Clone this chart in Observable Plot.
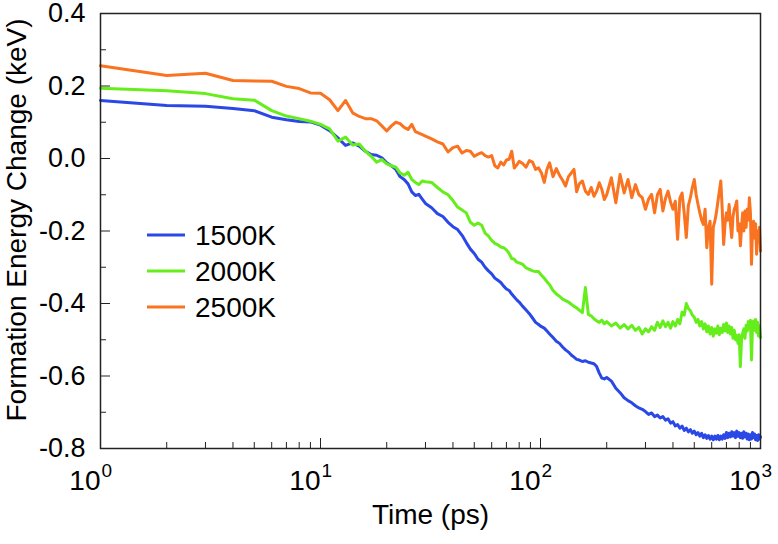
<!DOCTYPE html>
<html>
<head>
<meta charset="utf-8">
<script src="https://cdn.jsdelivr.net/npm/d3@7"></script>
<script src="https://cdn.jsdelivr.net/npm/@observablehq/plot@0.6"></script>
<style>
  body { margin: 0; background: #fff; }
  #chart { width: 778px; height: 544px; }
</style>
</head>
<body>
<div id="chart"></div>
<script>
// ---- data (time in ps, formation energy change in keV) ----
const time = [
  1,2,3,4,5,6,7,8,9,10,11,12,13,14,15,16,17,18,19,20,21,22,23,24,25,26,27,28,29,30,
  32,34,36,38,40,42,44,46,48,50,52,54,56,58,60,62,64,66,68,70,72,74,76,78,80,
  83,86,89,92,95,98,101,104,107,110,
  114,118,122,126,130,134,138,142,146,150,
  155,160,165,170,175,180,185,190,195,200,
  210,220,230,240,250,260,270,280,290,300,310,320,330,340,350,360,370,380,390,400,
  410,420,430,440,450,460,470,480,490,500,510,520,530,540,550,560,570,580,590,600,
  610,620,630,640,650,660,670,680,690,700,710,720,730,740,750,760,770,780,790,800,
  810,820,830,840,850,860,870,880,890,900,910,920,930,940,950,960,970,980,990,1000
];

const energy1500K = [
  0.160,0.146,0.144,0.138,0.132,0.114,0.107,0.102,0.101,0.092,0.077,0.057,0.036,0.043,0.034,0.020,0.011,0.009,0.002,-0.012,
  -0.020,-0.030,-0.050,-0.058,-0.070,-0.092,-0.102,-0.099,-0.112,-0.124,
  -0.136,-0.152,-0.160,-0.176,-0.188,-0.196,-0.212,-0.232,-0.250,-0.262,-0.278,-0.286,-0.300,-0.310,-0.318,-0.330,-0.336,-0.342,-0.352,-0.360,-0.364,-0.374,-0.382,-0.390,-0.396,
  -0.408,-0.418,-0.428,-0.440,-0.452,-0.458,-0.464,-0.468,-0.476,-0.484,
  -0.494,-0.504,-0.510,-0.520,-0.528,-0.534,-0.542,-0.548,-0.554,-0.556,
  -0.560,-0.558,-0.562,-0.564,-0.566,-0.574,-0.592,-0.606,-0.608,-0.604,
  -0.614,-0.634,-0.646,-0.660,-0.668,-0.674,-0.682,-0.688,-0.692,-0.698,-0.706,-0.702,-0.712,-0.708,-0.716,-0.712,-0.722,-0.718,-0.730,-0.726,
  -0.738,-0.734,-0.744,-0.738,-0.750,-0.744,-0.754,-0.748,-0.758,-0.752,-0.762,-0.756,-0.766,-0.758,-0.770,-0.762,-0.772,-0.764,-0.774,-0.766,
  -0.776,-0.766,-0.774,-0.764,-0.776,-0.766,-0.774,-0.762,-0.772,-0.756,-0.770,-0.758,-0.768,-0.754,-0.766,-0.756,-0.770,-0.752,-0.766,-0.756,
  -0.770,-0.758,-0.772,-0.754,-0.768,-0.758,-0.774,-0.760,-0.776,-0.762,-0.774,-0.756,-0.770,-0.760,-0.776,-0.764,-0.778,-0.762,-0.774,-0.768
];

const energy2000K = [
  0.194,0.187,0.179,0.165,0.161,0.132,0.117,0.110,0.103,0.094,0.082,0.048,0.059,0.037,0.040,0.020,0.006,-0.010,-0.003,-0.015,
  -0.020,-0.024,-0.040,-0.046,-0.038,-0.058,-0.066,-0.072,-0.062,-0.064,
  -0.066,-0.080,-0.092,-0.100,-0.116,-0.134,-0.142,-0.150,-0.176,-0.184,-0.178,-0.184,-0.206,-0.214,-0.226,-0.234,-0.238,-0.244,-0.246,-0.252,-0.262,-0.276,-0.278,-0.286,-0.288,
  -0.292,-0.302,-0.306,-0.310,-0.312,-0.312,-0.322,-0.330,-0.340,-0.348,
  -0.364,-0.374,-0.380,-0.388,-0.392,-0.396,-0.402,-0.408,-0.412,-0.418,
  -0.425,-0.356,-0.430,-0.434,-0.442,-0.448,-0.452,-0.446,-0.456,-0.450,
  -0.462,-0.454,-0.468,-0.458,-0.470,-0.460,-0.474,-0.466,-0.484,-0.470,-0.478,-0.464,-0.474,-0.452,-0.466,-0.448,-0.464,-0.452,-0.468,-0.450,
  -0.462,-0.444,-0.456,-0.424,-0.432,-0.400,-0.414,-0.420,-0.432,-0.438,-0.452,-0.444,-0.462,-0.450,-0.470,-0.456,-0.478,-0.462,-0.484,-0.466,
  -0.490,-0.470,-0.482,-0.462,-0.486,-0.468,-0.480,-0.458,-0.476,-0.454,-0.480,-0.462,-0.484,-0.466,-0.496,-0.474,-0.500,-0.488,-0.510,-0.486,
  -0.574,-0.498,-0.482,-0.470,-0.496,-0.460,-0.476,-0.450,-0.470,-0.446,-0.556,-0.462,-0.448,-0.474,-0.444,-0.480,-0.452,-0.490,-0.462,-0.494
];

const energy2500K = [
  0.256,0.229,0.235,0.215,0.214,0.213,0.199,0.193,0.181,0.180,0.162,0.132,0.160,0.126,0.116,0.110,0.110,0.104,0.090,0.076,
  0.090,0.100,0.096,0.086,0.080,0.094,0.074,0.070,0.066,0.062,
  0.054,0.046,0.040,0.018,0.030,0.034,0.015,0.022,0.020,0.006,0.012,0.016,0.008,0.004,0.008,-0.020,-0.026,-0.010,-0.018,-0.004,-0.002,0.020,-0.026,-0.018,-0.008,
  -0.014,-0.024,-0.006,-0.010,-0.030,-0.026,-0.040,-0.066,-0.030,-0.012,
  -0.050,-0.028,-0.046,-0.060,-0.076,-0.050,-0.040,-0.030,-0.092,-0.070,
  -0.062,-0.090,-0.099,-0.080,-0.104,-0.090,-0.067,-0.085,-0.113,-0.100,
  -0.053,-0.122,-0.044,-0.095,-0.058,-0.108,-0.072,-0.100,-0.108,-0.140,-0.112,-0.099,-0.150,-0.100,-0.085,-0.145,-0.110,-0.090,-0.120,-0.140,
  -0.118,-0.223,-0.110,-0.095,-0.150,-0.218,-0.130,-0.108,-0.080,-0.058,-0.100,-0.127,-0.150,-0.170,-0.182,-0.140,-0.246,-0.190,-0.173,-0.347,
  -0.190,-0.173,-0.150,-0.120,-0.090,-0.062,-0.140,-0.237,-0.180,-0.150,-0.170,-0.127,-0.180,-0.218,-0.160,-0.140,-0.130,-0.117,-0.200,-0.180,
  -0.241,-0.190,-0.150,-0.200,-0.145,-0.190,-0.140,-0.170,-0.108,-0.150,-0.292,-0.190,-0.173,-0.220,-0.180,-0.264,-0.200,-0.230,-0.190,-0.256
];

const seriesNames = ["1500K", "2000K", "2500K"];
const seriesColors = ["#2a48e6", "#66ee1c", "#fa7320"];

const yMajorTicks = [-0.8, -0.6, -0.4, -0.2, 0.0, 0.2, 0.4];
const yMinorTicks = [-0.7, -0.5, -0.3, -0.1, 0.1, 0.3];
const xMajorTicks = [1, 10, 100, 1000];
const xTickBase = "10";
const xTickExponents = ["0", "1", "2", "3"];
const xMinorTicks = [2,3,4,5,6,7,8,9,20,30,40,50,60,70,80,90,200,300,400,500,600,700,800,900];

const xTitle = "Time (ps)";
const yTitle = "Formation Energy Change (keV)";

// ---- build table ----
const seriesValues = [energy1500K, energy2000K, energy2500K];
const rows = [];
seriesNames.forEach((name, i) => {
  time.forEach((t, j) => rows.push({series: name, time: t, energy: seriesValues[i][j]}));
});

const font = "'Liberation Sans', Arial, Helvetica, sans-serif";

const chart = Plot.plot({
  width: 778,
  height: 544,
  marginLeft: 100,
  marginRight: 18,
  marginTop: 13,
  marginBottom: 96,
  style: {fontFamily: font, fontSize: "28px", background: "#fff", color: "#000"},
  x: {type: "log", domain: [1, 1000]},
  y: {domain: [-0.8, 0.4]},
  color: {domain: seriesNames, range: seriesColors},
  marks: [
    Plot.line(rows, {x: "time", y: "energy", z: "series", stroke: "series", strokeWidth: 3, strokeLinejoin: "round"}),
    Plot.frame({stroke: "#222", strokeWidth: 1.5}),
    Plot.axisY(yMajorTicks, {anchor: "left", tickSize: -10, tickPadding: 25, tickFormat: d => d.toFixed(1), fontSize: 27, label: null, stroke: "#222"}),
    Plot.axisY(yMinorTicks, {anchor: "left", tickSize: -6, tickFormat: () => "", label: null, stroke: "#222"}),
    Plot.axisX(xMajorTicks, {anchor: "bottom", tickSize: -10, tickPadding: 32, tickFormat: () => xTickBase, textAnchor: "end", fontSize: 28, label: null, stroke: "#222"}),
    Plot.axisX(xMajorTicks, {anchor: "bottom", tickSize: 0, tickPadding: 15, tickFormat: d => xTickExponents[xMajorTicks.indexOf(d)], textAnchor: "start", dx: 1, fontSize: 19, label: null}),
    Plot.axisX(xMinorTicks, {anchor: "bottom", tickSize: -6, tickFormat: () => "", label: null, stroke: "#222"}),
    Plot.text([xTitle], {frameAnchor: "bottom", text: d => d, textAnchor: "middle", dy: 75, fontSize: 28}),
    Plot.text([yTitle], {frameAnchor: "left", text: d => d, textAnchor: "middle", rotate: -90, dx: -83, dy: -11, fontSize: 28})
  ]
});

// ---- legend (line swatches + labels) ----
const svg = d3.select(chart);
const legend = svg.append("g").attr("font-family", font).attr("font-size", 28).attr("text-anchor", "start");
seriesNames.forEach((name, i) => {
  const y = 235 + i * 36;
  legend.append("line").attr("x1", 147).attr("x2", 185).attr("y1", y).attr("y2", y)
    .attr("stroke", seriesColors[i]).attr("stroke-width", 3);
  legend.append("text").attr("x", 195).attr("y", y).attr("dy", "0.35em").attr("text-anchor", "start").text(name);
});

document.getElementById("chart").appendChild(chart);
</script>
</body>
</html>
